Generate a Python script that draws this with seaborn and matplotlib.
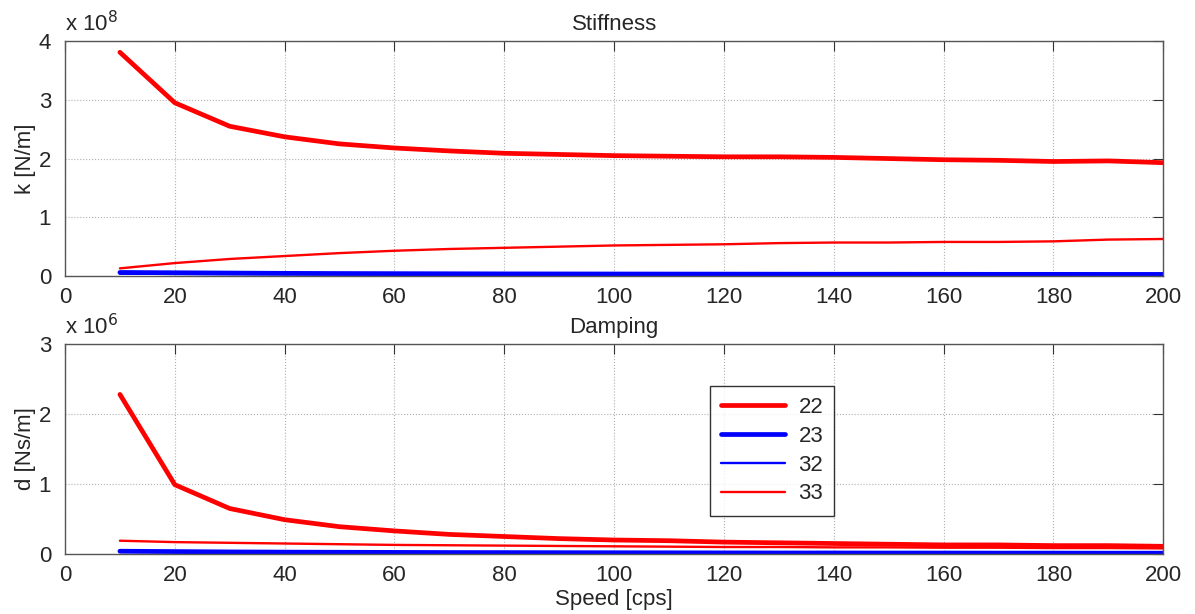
import numpy as np
import pandas as pd
import seaborn as sns
import matplotlib
matplotlib.use("Agg")
import matplotlib.pyplot as plt
from matplotlib.ticker import FuncFormatter

speed = [10, 20, 30, 40, 50, 60, 70, 80, 90, 100,
         110, 120, 130, 140, 150, 160, 170, 180, 190, 200]

# stiffness in N/m
k22 = [3.81e8, 2.95e8, 2.55e8, 2.37e8, 2.25e8, 2.18e8, 2.13e8, 2.09e8, 2.07e8, 2.05e8,
       2.04e8, 2.03e8, 2.03e8, 2.02e8, 2.00e8, 1.98e8, 1.97e8, 1.95e8, 1.96e8, 1.93e8]
k23 = [0.06e8, 0.055e8, 0.05e8, 0.045e8, 0.042e8, 0.04e8, 0.038e8, 0.036e8, 0.035e8, 0.034e8,
       0.033e8, 0.032e8, 0.031e8, 0.03e8, 0.03e8, 0.029e8, 0.028e8, 0.028e8, 0.027e8, 0.027e8]
k32 = [0.04e8, 0.035e8, 0.032e8, 0.03e8, 0.028e8, 0.027e8, 0.026e8, 0.025e8, 0.024e8, 0.023e8,
       0.022e8, 0.022e8, 0.021e8, 0.021e8, 0.02e8, 0.02e8, 0.02e8, 0.019e8, 0.019e8, 0.019e8]
k33 = [0.13e8, 0.22e8, 0.29e8, 0.34e8, 0.39e8, 0.43e8, 0.46e8, 0.48e8, 0.50e8, 0.52e8,
       0.53e8, 0.54e8, 0.56e8, 0.57e8, 0.57e8, 0.58e8, 0.58e8, 0.59e8, 0.62e8, 0.63e8]

# damping in Ns/m
d22 = [2.28e6, 0.99e6, 0.65e6, 0.49e6, 0.39e6, 0.33e6, 0.28e6, 0.25e6, 0.22e6, 0.20e6,
       0.19e6, 0.17e6, 0.16e6, 0.15e6, 0.14e6, 0.13e6, 0.13e6, 0.12e6, 0.12e6, 0.11e6]
d23 = [0.04e6, 0.035e6, 0.03e6, 0.027e6, 0.025e6, 0.023e6, 0.021e6, 0.02e6, 0.019e6, 0.018e6,
       0.017e6, 0.016e6, 0.015e6, 0.015e6, 0.014e6, 0.014e6, 0.013e6, 0.013e6, 0.012e6, 0.012e6]
d32 = [0.03e6, 0.027e6, 0.024e6, 0.022e6, 0.02e6, 0.019e6, 0.018e6, 0.017e6, 0.016e6, 0.015e6,
       0.015e6, 0.014e6, 0.014e6, 0.013e6, 0.013e6, 0.012e6, 0.012e6, 0.011e6, 0.011e6, 0.011e6]
d33 = [0.19e6, 0.17e6, 0.16e6, 0.15e6, 0.14e6, 0.13e6, 0.125e6, 0.12e6, 0.115e6, 0.11e6,
       0.105e6, 0.10e6, 0.10e6, 0.095e6, 0.095e6, 0.09e6, 0.09e6, 0.085e6, 0.085e6, 0.08e6]

labels = ["22", "23", "32", "33"]
colors = {"22": "#ff0000", "23": "#0000ff", "32": "#0000ff", "33": "#ff0000"}
widths = {"22": 3.4, "23": 3.4, "32": 1.7, "33": 1.7}

stiff = pd.DataFrame({"speed": speed * 4, "value": k22 + k23 + k32 + k33,
                      "term": [t for t in labels for _ in speed]})
damp = pd.DataFrame({"speed": speed * 4, "value": d22 + d23 + d32 + d33,
                     "term": [t for t in labels for _ in speed]})

sns.set_style("white")
plt.rcParams["font.family"] = ["Liberation Sans", "DejaVu Sans"]
plt.rcParams["font.size"] = 16

fig = plt.figure(figsize=(11.95, 6.14), dpi=100)
ax1 = fig.add_axes([0.0544, 0.5505, 0.919, 0.3825])
ax2 = fig.add_axes([0.0544, 0.0977, 0.919, 0.342])


def draw(ax, df, scale, ymax, exp, title, ylabel):
    for t in labels:
        sub = df[df["term"] == t]
        sns.lineplot(data=sub, x="speed", y="value", ax=ax, color=colors[t],
                     linewidth=widths[t], label=t, legend=False)
    ax.set_xlim(0, 200)
    ax.set_ylim(0, ymax * scale)
    ax.set_xticks(range(0, 201, 20))
    ax.set_yticks([i * scale for i in range(ymax + 1)])
    ax.yaxis.set_major_formatter(FuncFormatter(lambda v, p: f"{v / scale:g}"))
    ax.grid(True, linestyle=":", color="#b0b0b0", linewidth=0.8)
    ax.tick_params(direction="in", length=7, color="#333333", labelsize=16,
                   top=True, right=True)
    ax.tick_params(axis="x", pad=8)
    ax.tick_params(axis="y", pad=10)
    for s in ax.spines.values():
        s.set_color("#555555")
        s.set_linewidth(1.0)
    ax.set_title(title, fontsize=16, pad=8)
    ax.set_ylabel(ylabel, fontsize=16, labelpad=2)
    ax.set_xlabel("")
    ax.annotate("x 10$^{%d}$" % exp, xy=(0, 1), xycoords="axes fraction",
                xytext=(0, 7), textcoords="offset points",
                fontsize=16, ha="left", va="baseline")


draw(ax1, stiff, 1e8, 4, 8, "Stiffness", "k [N/m]")
draw(ax2, damp, 1e6, 3, 6, "Damping", "d [Ns/m]")
ax2.set_xlabel("Speed [cps]", fontsize=16, labelpad=2)

leg = ax2.legend(loc="upper left", bbox_to_anchor=(0.587, 0.80), fontsize=16,
                 frameon=True, fancybox=False, edgecolor="black",
                 handlelength=2.9, borderpad=0.5, labelspacing=0.35,
                 handletextpad=0.6, borderaxespad=0)
leg.get_frame().set_linewidth(1.0)

fig.savefig("out.png", dpi=100)
